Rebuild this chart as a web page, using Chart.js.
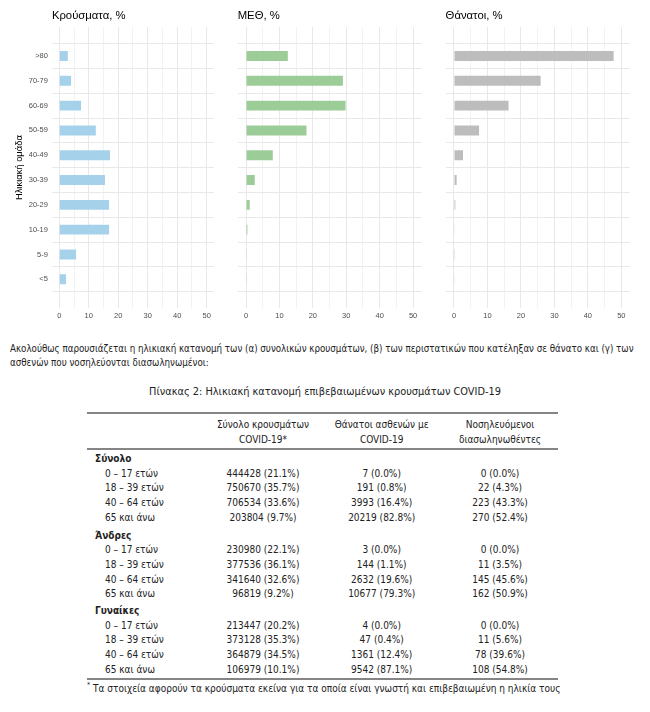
<!DOCTYPE html>
<html lang="el">
<head>
    <meta charset="UTF-8">
    <title>Ηλικιακή κατανομή κρουσμάτων COVID-19</title>
    <script src="https://cdn.jsdelivr.net/npm/chart.js"></script>
    <style>
        body {
            margin: 0;
            width: 650px;
            height: 712px;
            position: relative;
            overflow: hidden;
            background: #fff;
            color: #222;
            font-family: "Liberation Sans Narrow", "DejaVu Sans Condensed", "Liberation Sans", sans-serif;
        }
        canvas { position: absolute; top: 0; }
        .t { position: absolute; white-space: nowrap; line-height: 1; transform: translateY(-50%); }
        .c { transform: translate(-50%, -50%); }
        .rule { position: absolute; left: 87px; width: 471px; height: 1.5px; background: #858585; }
    </style>
</head>
<body>
    <canvas id="cases" width="215" height="325" style="left:0px"></canvas>
    <canvas id="icu" width="186" height="325" style="left:236px"></canvas>
    <canvas id="deaths" width="187" height="325" style="left:444px"></canvas>

    <div class="t" style="left:10px; top:349px; font-size:9.7px">Ακολούθως παρουσιάζεται η ηλικιακή κατανομή των (α) συνολικών κρουσμάτων, (β) των περιστατικών που κατέληξαν σε θάνατο και (γ) των</div>
    <div class="t" style="left:10px; top:363px; font-size:9.7px">ασθενών που νοσηλεύονται διασωληνωμένοι:</div>
    <div class="t c" style="left:325px; top:392px; font-size:10.9px">Πίνακας 2: Ηλικιακή κατανομή επιβεβαιωμένων κρουσμάτων COVID-19</div>

    <div class="rule" style="top:412px"></div>
    <div class="rule" style="top:448px"></div>
    <div class="rule" style="top:678px"></div>
    <div id="table"></div>
    <div class="t" style="left:87px; top:685px; font-size:7px">*</div>
    <div class="t" style="left:93px; top:689px; font-size:10px">Τα στοιχεία αφορούν τα κρούσματα εκείνα για τα οποία είναι γνωστή και επιβεβαιωμένη η ηλικία τους</div>

    <script>
        const ageGroups = ['>80', '70-79', '60-69', '50-59', '40-49', '30-39', '20-29', '10-19', '5-9', '<5'];
        const casesPct = [2.9, 4.0, 7.4, 12.4, 17.2, 15.5, 16.9, 16.9, 5.7, 2.3];
        const icuPct = [12.5, 29.0, 29.8, 18.1, 8.0, 2.6, 1.1, 0.4, 0.2, 0.2];
        const deathsPct = [47.7, 25.9, 16.3, 7.5, 2.7, 0.8, 0.4, 0.2, 0.05, 0.1];
        const xTicks = [0, 5, 10, 15, 20, 25, 30, 35, 40, 45, 50];

        const tableHeaders = [['Σύνολο κρουσμάτων', 'COVID-19*'], ['Θάνατοι ασθενών με', 'COVID-19'], ['Νοσηλευόμενοι', 'διασωληνωθέντες']];
        const tableGroups = ['Σύνολο', 'Άνδρες', 'Γυναίκες'];
        const tableAges = ['0 – 17 ετών', '18 – 39 ετών', '40 – 64 ετών', '65 και άνω'];
        const casesCol = [
            ['444428 (21.1%)', '750670 (35.7%)', '706534 (33.6%)', '203804 (9.7%)'],
            ['230980 (22.1%)', '377536 (36.1%)', '341640 (32.6%)', '96819 (9.2%)'],
            ['213447 (20.2%)', '373128 (35.3%)', '364879 (34.5%)', '106979 (10.1%)']
        ];
        const deathsCol = [
            ['7 (0.0%)', '191 (0.8%)', '3993 (16.4%)', '20219 (82.8%)'],
            ['3 (0.0%)', '144 (1.1%)', '2632 (19.6%)', '10677 (79.3%)'],
            ['4 (0.0%)', '47 (0.4%)', '1361 (12.4%)', '9542 (87.1%)']
        ];
        const intubatedCol = [
            ['0 (0.0%)', '22 (4.3%)', '223 (43.3%)', '270 (52.4%)'],
            ['0 (0.0%)', '11 (3.5%)', '145 (45.6%)', '162 (50.9%)'],
            ['0 (0.0%)', '11 (5.6%)', '78 (39.6%)', '108 (54.8%)']
        ];

        Chart.defaults.font.family = '"Liberation Sans", Arial, sans-serif';

        function createChart(id, title, values, color, withAxis, yWidth, padRight) {
            new Chart(document.getElementById(id), {
                type: 'bar',
                data: {
                    datasets: [{
                        data: values.map((v, i) => ({ x: v, y: i })),
                        backgroundColor: color,
                        barPercentage: 0.4,
                        categoryPercentage: 1
                    }]
                },
                options: {
                    indexAxis: 'y',
                    responsive: false,
                    animation: false,
                    layout: { padding: { right: padRight } },
                    plugins: {
                        legend: { display: false },
                        tooltip: { enabled: false },
                        title: {
                            display: true,
                            text: title,
                            align: 'start',
                            fullSize: false,
                            color: '#000',
                            font: { size: 11.3, weight: 'normal' },
                            padding: { top: 9.2, bottom: 4.3 }
                        }
                    },
                    scales: {
                        x: {
                            type: 'linear',
                            min: -2.5,
                            max: 52.5,
                            border: { display: false },
                            grid: {
                                drawTicks: false,
                                color: ctx => ctx.tick && ctx.tick.value % 10 === 0 ? '#e8e8e8' : '#f2f2f2'
                            },
                            ticks: {
                                color: '#4d4d4d',
                                font: { size: 7.5 },
                                padding: 3,
                                maxRotation: 0,
                                autoSkip: false,
                                callback: v => v % 10 === 0 ? v : ''
                            },
                            afterBuildTicks: s => { s.ticks = xTicks.map(v => ({ value: v })); },
                            afterFit: s => { s.height = 16.8; }
                        },
                        y: {
                            type: 'linear',
                            reverse: true,
                            min: -0.6,
                            max: 9.6,
                            border: { display: false },
                            grid: { drawTicks: false, color: '#e8e8e8' },
                            ticks: {
                                display: withAxis,
                                color: '#4d4d4d',
                                font: { size: 7.5 },
                                padding: 4,
                                autoSkip: false,
                                callback: v => ageGroups[v]
                            },
                            title: {
                                display: withAxis,
                                text: 'Ηλικιακή ομάδα',
                                color: '#000',
                                font: { size: 9.4 },
                                padding: { top: 13.9, bottom: 0 }
                            },
                            afterBuildTicks: s => { s.ticks = ageGroups.map((g, i) => ({ value: i })); },
                            afterFit: s => { s.width = yWidth; }
                        }
                    }
                }
            });
        }

        function buildTable() {
            const box = document.getElementById('table');
            const colX = [263, 381.7, 500];
            let html = '';
            tableHeaders.forEach((lines, c) => {
                html += `<div class="t c" style="left:${colX[c]}px; top:425px; font-size:10px">${lines[0]}</div>`;
                html += `<div class="t c" style="left:${colX[c]}px; top:440px; font-size:10px">${lines[1]}</div>`;
            });
            const groupY = [459, 535.5, 611];
            tableGroups.forEach((group, g) => {
                html += `<div class="t" style="left:95px; top:${groupY[g]}px; font-size:10px; font-weight:bold">${group}</div>`;
                tableAges.forEach((age, r) => {
                    const y = groupY[g] + 14.5 + r * 14.8;
                    html += `<div class="t" style="left:105px; top:${y}px; font-size:10px">${age}</div>`;
                    [casesCol, deathsCol, intubatedCol].forEach((col, c) => {
                        html += `<div class="t c" style="left:${colX[c]}px; top:${y}px; font-size:10px">${col[g][r]}</div>`;
                    });
                });
            });
            box.innerHTML = html;
        }

        createChart('cases', 'Κρούσματα, %', casesPct, '#a6d1ea', true, 51.9, 1);
        createChart('icu', 'ΜΕΘ, %', icuPct, '#9ccc98', false, 1.7, 0.6);
        createChart('deaths', 'Θάνατοι, %', deathsPct, '#bdbdbd', false, 1.6, 1.3);
        buildTable();
    </script>
</body>
</html>
